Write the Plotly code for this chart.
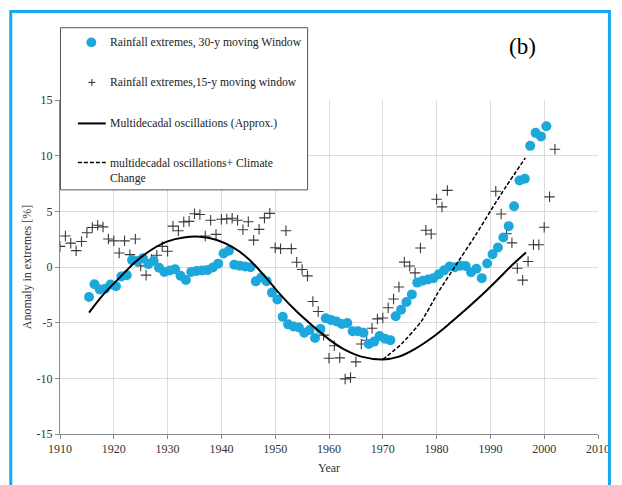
import plotly.graph_objects as go

# Rainfall extremes, 15-year moving window (1910-2002); 1983-1990 not shown
years_15 = list(range(1910, 2003))
rain_15 = [
    1.85, 2.79, 2.14, 1.47, 2.29, 3.08, 3.55, 3.75, 3.60, 2.52,   # 1910-1919
    2.35, 1.26, 2.35, 1.11, 2.52, 0.10, -0.73, 0.67, 1.05, 1.85,  # 1920-1929
    1.41, 3.67, 3.26, 4.05, 4.10, 4.78, 4.72, 2.79, 4.20, 2.93,   # 1930-1939
    4.29, 4.32, 4.38, 4.20, 3.35, 4.06, 2.41, 3.38, 4.41, 4.82,   # 1940-1949
    1.73, 1.65, 3.25, 1.65, 0.42, -0.22, -0.80, -3.10, -4.00, -6.12,  # 1950-1959
    -8.20, -7.08, -8.16, -10.05, -9.93, -8.52, -6.92, -6.58, -5.50, -4.66,  # 1960-1969
    -4.58, -3.66, -2.87, -1.80, 0.44, 0.09, -0.53, 1.70, 3.30, 2.96,  # 1970-1979
    6.09, 5.40, 6.88, None, None, None, None, None, None, None,   # 1980-1989
    None, 6.80, 4.76, 2.98, 2.17, -0.11, -1.18, 0.50, 2.00, 2.00,  # 1990-1999
    3.57, 6.30, 10.58,                                            # 2000-2002
]

# Rainfall extremes, 30-year moving window (1915-2000), plotted mid-year
years_30 = [y + 0.4 for y in range(1915, 2001)]
rain_30 = [
    -2.70, -1.55, -2.02, -1.96, -1.58,                            # 1915-1919
    -1.73, -0.85, -0.73, 0.62, 0.53, 0.79, 0.26, 0.53, -0.06, -0.44,  # 1920-1929
    -0.32, -0.21, -0.79, -1.17, -0.44, -0.35, -0.32, -0.28, -0.05, 0.30,  # 1930-1939
    1.22, 1.47, 0.21, 0.12, 0.05, -0.03, -1.29, -0.95, -1.27, -2.30,  # 1940-1949
    -2.92, -4.47, -5.15, -5.35, -5.43, -5.90, -5.66, -6.38, -5.56, -4.60,  # 1950-1959
    -4.77, -4.89, -5.12, -5.03, -5.77, -5.77, -5.91, -6.92, -6.70, -6.19,  # 1960-1969
    -6.45, -6.57, -4.43, -3.84, -3.15, -2.46, -1.40, -1.23, -1.13, -1.00,  # 1970-1979
    -0.65, -0.30, 0.05, -0.03, 0.12, 0.09, -0.47, -0.15, -1.00, 0.32,  # 1980-1989
    1.14, 1.75, 2.65, 3.67, 5.45, 7.77, 7.92, 10.88, 12.05, 11.73,  # 1990-1999
    12.64,                                                        # 2000
]

# Multidecadal oscillations (approx.)
osc_years = [1915.4, 1918, 1921, 1924, 1927, 1930, 1933, 1936, 1939, 1942,
             1945, 1948, 1951, 1954, 1957, 1960, 1963, 1966, 1970, 1973,
             1976, 1979, 1982, 1985, 1988, 1991, 1994, 1996.6]
osc_vals = [-4.10, -2.50, -1.00, 0.45, 1.55, 2.30, 2.65, 2.72, 2.45, 1.80,
            0.75, -0.80, -2.50, -4.00, -5.30, -6.50, -7.45, -8.05, -8.30, -8.05,
            -7.35, -6.40, -5.25, -4.00, -2.70, -1.30, 0.15, 1.30]

# Multidecadal oscillations + climate change
cc_years = [1970, 1973.5, 1977.2, 1980.2, 1983.5, 1987.3, 1990.1, 1993, 1996.5]
cc_vals = [-8.30, -6.90, -4.85, -2.35, 0.10, 2.90, 5.10, 7.30, 9.80]

# Key entries
key_labels = [
    "Rainfall extremes, 30-y moving Window",
    "Rainfall extremes,15-y moving window",
    "Multidecadal oscillations (Approx.)",
    "multidecadal oscillations+ Climate<br>Change",
]

x_ticks = list(range(1910, 2011, 10))
y_ticks = list(range(-15, 16, 5))

SERIF = "Liberation Serif, Times New Roman, serif"
DOT = "#1DA8DC"
CROSS = "#3a3a3a"
DASH = "4px,2px"

fig = go.Figure()

fig.add_trace(go.Scatter(
    x=years_15, y=rain_15, mode="markers", name=key_labels[1],
    marker=dict(symbol="cross-thin", size=7.5, line=dict(width=1.1, color=CROSS), color=CROSS),
))
fig.add_trace(go.Scatter(
    x=years_30, y=rain_30, mode="markers", name=key_labels[0],
    marker=dict(symbol="circle", size=10, color=DOT),
))
fig.add_trace(go.Scatter(
    x=osc_years, y=osc_vals, mode="lines", name=key_labels[2],
    line=dict(color="black", width=2, shape="spline", smoothing=1.0),
))
fig.add_trace(go.Scatter(
    x=cc_years, y=cc_vals, mode="lines", name=key_labels[3].replace("<br>", " "),
    line=dict(color="black", width=1.5, dash=DASH, shape="spline", smoothing=0.6),
))

W, H = 622, 485
L, R, T, B = 60, 21, 100, 43
pw, ph = W - L - R, H - T - B


def px_x(p):
    return (p - L) / pw


def px_y(p):
    return (H - B - p) / ph


def seg(x0, y0, x1, y1, color, width, dash="solid"):
    return dict(type="line", xref="paper", yref="paper", layer="above",
                x0=px_x(x0), y0=px_y(y0), x1=px_x(x1), y1=px_y(y1),
                line=dict(color=color, width=width, dash=dash))


# key box and its symbols
key_rows = [41, 82, 124, 164]
shapes = [
    dict(type="rect", xref="paper", yref="paper", layer="above",
         x0=px_x(60.5), x1=px_x(309), y0=px_y(192), y1=px_y(26),
         line=dict(color="#555", width=1), fillcolor="white"),
    dict(type="circle", xref="paper", yref="paper", layer="above",
         x0=px_x(86.5), x1=px_x(96.5), y0=px_y(key_rows[0] + 5), y1=px_y(key_rows[0] - 5),
         line=dict(color=DOT, width=0), fillcolor=DOT),
    seg(88.5, key_rows[1], 95.5, key_rows[1], CROSS, 1.1),
    seg(92, key_rows[1] - 3.5, 92, key_rows[1] + 3.5, CROSS, 1.1),
    seg(78, key_rows[2], 106, key_rows[2], "black", 2),
    seg(78, key_rows[3], 106, key_rows[3], "black", 1.5, DASH),
    # outer frame
    dict(type="rect", xref="paper", yref="paper", layer="above",
         x0=px_x(10.5), x1=px_x(612.5), y0=px_y(520), y1=px_y(9.5),
         line=dict(color="#18A8EE", width=3), fillcolor="rgba(0,0,0,0)"),
]

annotations = [
    dict(text=key_labels[i], xref="paper", yref="paper",
         x=px_x(108), y=px_y(key_rows[i]), xanchor="left", yanchor="middle",
         align="left", showarrow=False,
         font=dict(family=SERIF, size=11.7, color="#222"))
    for i in range(3)
]
annotations.append(dict(
    text=key_labels[3], xref="paper", yref="paper",
    x=px_x(108), y=px_y(key_rows[3] - 8), xanchor="left", yanchor="top",
    align="left", showarrow=False,
    font=dict(family=SERIF, size=11.7, color="#222"),
))
annotations.append(dict(
    text="(b)", xref="paper", yref="paper", x=px_x(525), y=px_y(45),
    xanchor="center", yanchor="middle", showarrow=False,
    font=dict(family=SERIF, size=23, color="black"),
))

fig.update_layout(
    width=W, height=H,
    margin=dict(l=L, r=R, t=T, b=B),
    paper_bgcolor="white", plot_bgcolor="white",
    font=dict(family=SERIF, size=12, color="#333"),
    showlegend=False,
    xaxis=dict(
        range=[1910, 2010], tickvals=x_ticks, ticktext=[str(v) for v in x_ticks],
        showgrid=True, gridcolor="#dcdcdc", gridwidth=1,
        showline=True, linecolor="#8a8a8a", linewidth=1,
        ticks="outside", ticklen=4, tickcolor="#8a8a8a",
        zeroline=False,
        title=dict(text="Year", standoff=8, font=dict(family=SERIF, size=12, color="#333")),
    ),
    yaxis=dict(
        range=[-15, 15], tickvals=y_ticks, ticktext=[str(v) for v in y_ticks],
        showgrid=True, gridcolor="#dcdcdc", gridwidth=1,
        showline=True, linecolor="#8a8a8a", linewidth=1,
        ticks="outside", ticklen=4, tickcolor="#8a8a8a",
        zeroline=False,
        title=dict(text="Anomaly in extremes [%]", standoff=2, font=dict(family=SERIF, size=12, color="#333")),
    ),
    annotations=annotations,
    shapes=shapes,
)

fig.write_html("out.html")
